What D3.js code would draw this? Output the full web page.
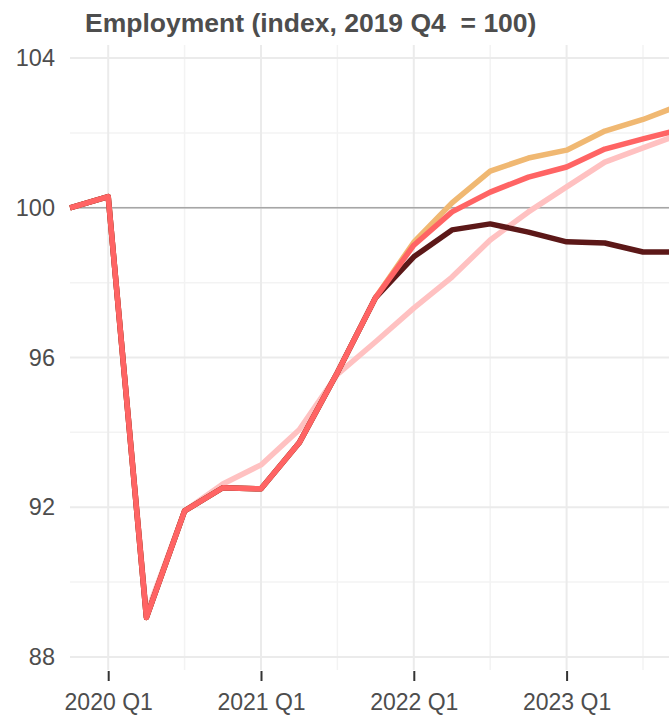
<!DOCTYPE html>
<html>
<head>
<meta charset="utf-8">
<script src="https://cdn.jsdelivr.net/npm/d3@7"></script>
<style>
  body { margin: 0; background: #fff; }
  svg { display: block; font-family: "Liberation Sans", Arial, sans-serif; }
</style>
</head>
<body>
<div id="chart"></div>
<script>
// quarters from 2019 Q4, index 0
const quarters = ["2019 Q4","2020 Q1","2020 Q2","2020 Q3","2020 Q4","2021 Q1","2021 Q2","2021 Q3","2021 Q4",
  "2022 Q1","2022 Q2","2022 Q3","2022 Q4","2023 Q1","2023 Q2","2023 Q3","2023 Q4"]
const xMajor = ["2020 Q1","2021 Q1","2022 Q1","2023 Q1"]
const xMinor = ["2020 Q3","2021 Q3","2022 Q3","2023 Q3"]
const yMajor = [88, 92, 96, 100, 104]
const yMinor = [90, 94, 98, 102]

const common = [100, 100.3, 89.05, 91.9, 92.52, 92.49, 93.72, 95.6, 97.6]
const lightPink = [100, 100.3, 89.15, 91.9, 92.62, 93.13, 94.07, 95.55, 96.42, 97.32, 98.15, 99.14, 99.89, 100.56, 101.22, 101.6, 101.98]
const orange = common.concat([99.08, 100.13, 100.98, 101.33, 101.54, 102.05, 102.36, 102.75])
const darkRed = common.concat([98.69, 99.41, 99.57, 99.35, 99.09, 99.06, 98.82, 98.82])
const red = common.concat([99.0, 99.89, 100.42, 100.82, 101.09, 101.57, 101.84, 102.1])

const series = [
  {name: "light", values: lightPink, color: "#ffc1c1"},
  {name: "orange", values: orange, color: "#f0b872"},
  {name: "dark", values: darkRed, color: "#5c1818"},
  {name: "red", values: red, color: "#ff6464"}
]

const width = 669, height = 715
const svg = d3.select("#chart").append("svg")
  .attr("width", width).attr("height", height)

const x = d3.scaleLinear().domain([0, 16]).range([70, 681.2])
const y = d3.scaleLinear().domain([87.65, 104.35]).range([670, 45])
const qx = q => x(quarters.indexOf(q))

// grid
const grid = svg.append("g")
grid.selectAll(".ymin").data(yMinor).enter().append("line")
  .attr("x1", 70).attr("x2", width).attr("y1", d => y(d)).attr("y2", d => y(d))
  .attr("stroke", "#f3f3f3").attr("stroke-width", 1.5)
grid.selectAll(".xmin").data(xMinor).enter().append("line")
  .attr("x1", qx).attr("x2", qx).attr("y1", 45).attr("y2", 670)
  .attr("stroke", "#f3f3f3").attr("stroke-width", 1.5)
grid.selectAll(".ymaj").data(yMajor).enter().append("line")
  .attr("x1", 70).attr("x2", width).attr("y1", d => y(d)).attr("y2", d => y(d))
  .attr("stroke", "#ebebeb").attr("stroke-width", 2)
grid.selectAll(".xmaj").data(xMajor).enter().append("line")
  .attr("x1", qx).attr("x2", qx).attr("y1", 45).attr("y2", 670)
  .attr("stroke", "#ebebeb").attr("stroke-width", 2)

// reference line at 100
svg.append("line")
  .attr("x1", 70).attr("x2", width).attr("y1", y(100)).attr("y2", y(100))
  .attr("stroke", "#a6a6a6").attr("stroke-width", 1.5)

// axes
const yAxis = svg.append("g")
  .attr("transform", "translate(66,0)")
  .call(d3.axisLeft(y).tickValues(yMajor).tickSize(0).tickPadding(0))
yAxis.select(".domain").remove()
yAxis.selectAll("text").attr("x", -11).attr("font-size", 23.5).attr("fill", "#4d4d4d")
  .attr("font-family", "Liberation Sans, Arial, sans-serif")

const xAxis = svg.append("g")
  .attr("transform", "translate(0,671)")
  .call(d3.axisBottom(x).tickValues(xMajor.map(q => quarters.indexOf(q)))
    .tickFormat(i => quarters[i]).tickSize(10).tickPadding(13))
xAxis.select(".domain").remove()
xAxis.selectAll("line").attr("stroke", "#333").attr("stroke-width", 2)
xAxis.selectAll("text").attr("font-size", 23).attr("fill", "#4d4d4d")
  .attr("font-family", "Liberation Sans, Arial, sans-serif")

// lines
const line = d3.line().x((d, i) => x(i)).y(d => y(d))
svg.append("g").selectAll("path").data(series).enter().append("path")
  .attr("d", d => line(d.values))
  .attr("fill", "none")
  .attr("stroke", d => d.color)
  .attr("stroke-width", 5.5)
  .attr("stroke-linejoin", "round")

// title
svg.append("text")
  .attr("x", 85).attr("y", 32)
  .attr("font-size", 26.5).attr("font-weight", "bold").attr("fill", "#4d4d4d")
  .text("Employment (index, 2019 Q4  = 100)")
  .style("white-space", "pre")
</script>
</body>
</html>
